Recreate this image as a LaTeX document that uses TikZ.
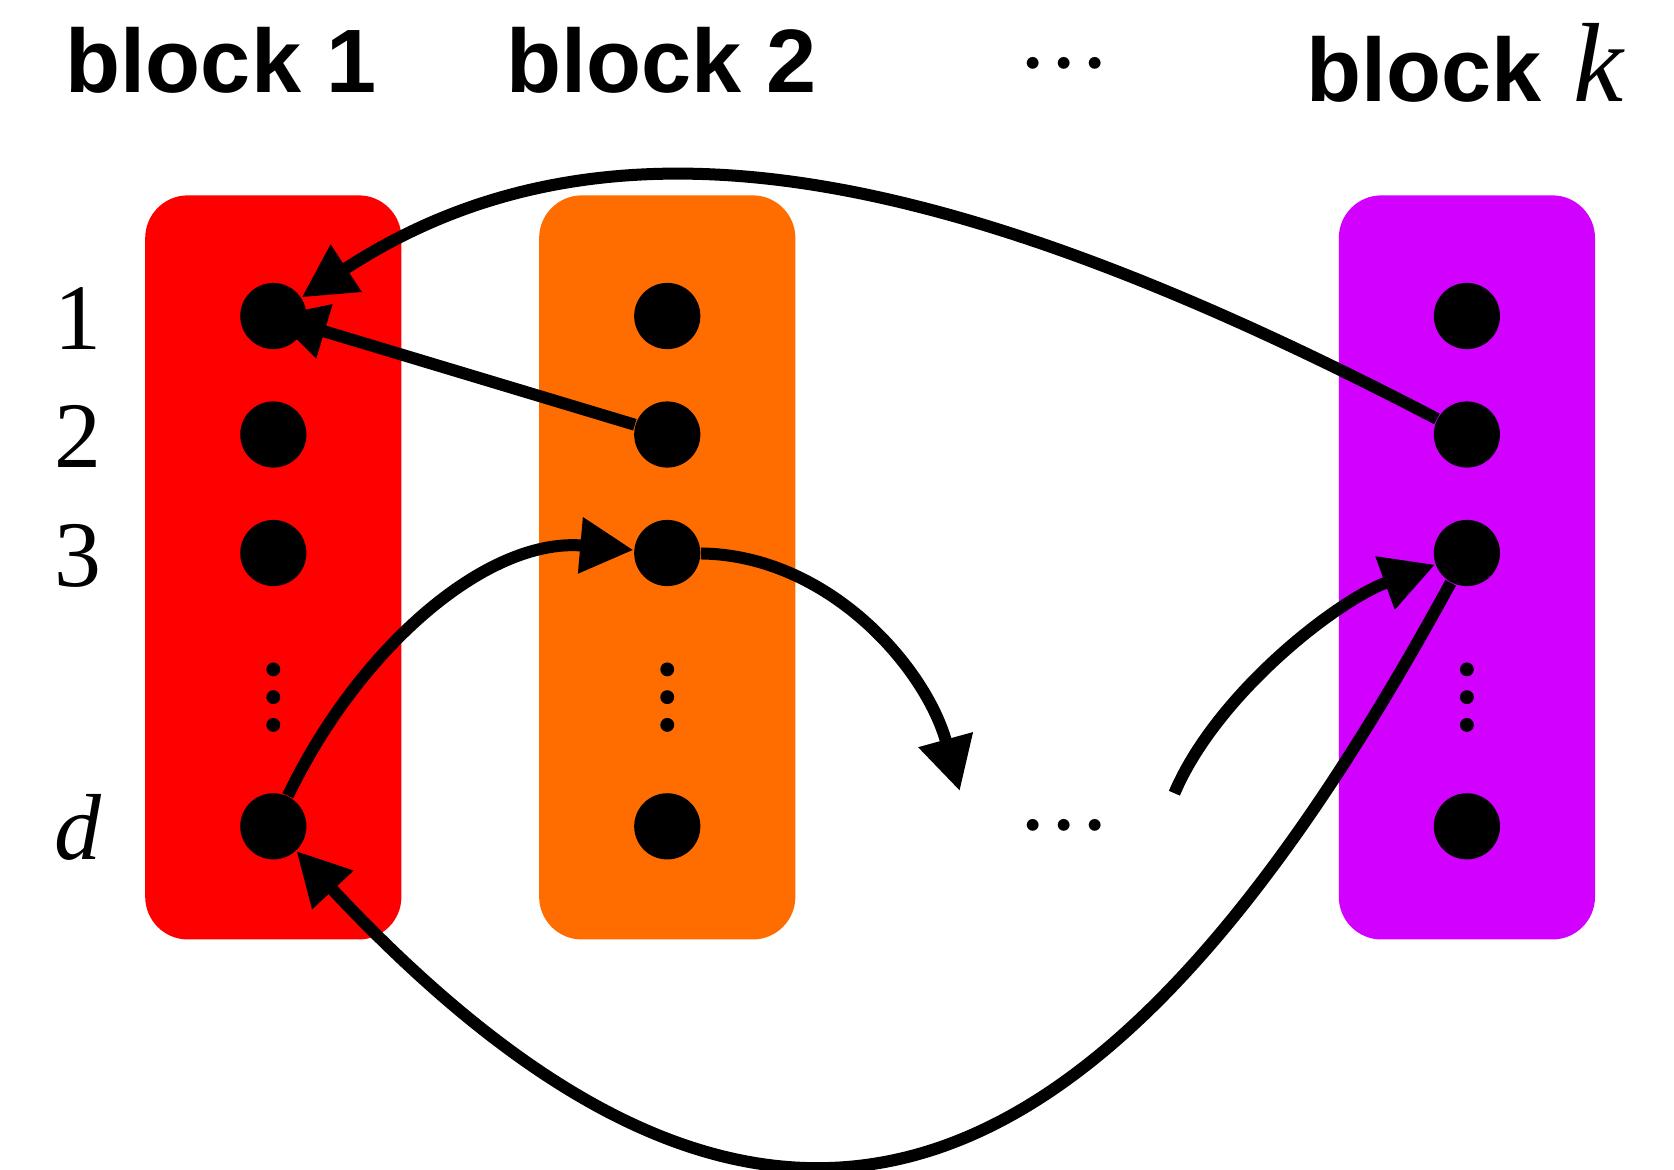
\documentclass[tikz,border=0pt]{standalone}
\usepackage{fix-cm}
\usepackage{fontspec}
\setmainfont{Liberation Sans}
\newfontfamily\rowfont{Liberation Serif}
\usetikzlibrary{arrows.meta}
\definecolor{blockone}{HTML}{FF0000}
\definecolor{blocktwo}{HTML}{FF6D00}
\definecolor{blockk}{HTML}{D200FF}
\newcommand{\threedots}{\fontsize{30}{36}\selectfont$\mathord{\cdot}\mathord{\cdot}\mathord{\cdot}$}

\begin{document}
\begin{tikzpicture}[
    blockbox/.style={rounded corners=0.4cm, minimum width=2.4cm, minimum height=6.97cm, inner sep=0pt},
    entry/.style={circle, fill=black, inner sep=0pt, minimum size=6.2mm},
    hop/.style={line width=3.2pt, -{Triangle[length=5mm,width=5mm]}},
    title/.style={anchor=base west, inner sep=0pt, font=\fontsize{24}{28}\selectfont\bfseries},
    rowlabel/.style={anchor=base, inner sep=0pt, font=\rowfont\fontsize{25}{30}\selectfont},
    ]
    \useasboundingbox (0,0) rectangle (15.68,-10.95);

    % blocks
    \node[blockbox, fill=blockone] (blk1) at (2.56,-5.315) {};
    \node[blockbox, fill=blocktwo] (blk2) at (6.25,-5.315) {};
    \node[blockbox, fill=blockk] (blkk) at (13.74,-5.315) {};

    \node[title] (t1) at (0.61,-0.87) {block 1};
    \node[title] (t2) at (4.74,-0.87) {block 2};
    \node[title] (tk) at (12.23,-0.95) {block\hspace{0.35em}{\rowfont\itshape\mdseries\fontsize{30}{36}\selectfont k}};
    \node[anchor=base, inner sep=0pt] (tdots) at (9.97,-0.86) {\threedots};

    % entries of each block
    \foreach \x/\b in {2.56/1, 6.25/2, 13.74/k}{
        \foreach \y/\r in {2.96/1, 4.07/2, 5.18/3, 7.74/d}
            \node[entry] (b\b-\r) at (\x,-\y) {};
        \foreach \y in {6.27,6.53,6.79}
            \fill (\x,-\y) circle (0.065);
    }

    \foreach \y/\r in {2.96/1, 4.07/2, 5.18/3}
        \node[rowlabel] (lab\r) at (0.73,-\y-0.31) {\r};
    \node[rowlabel] (labd) at (0.73,-8.05) {\itshape d};

    \node[anchor=base, inner sep=0pt] (mdots) at (9.97,-7.99) {\threedots};

    % moves between blocks
    \draw[hop] (bk-2) .. controls +(-4.72,2.46) and +(3.2,2.1) .. (b1-1);
    \draw[hop] (b2-2) -- (b1-1.center);
    \draw[hop] (b1-d) .. controls +(0.79,1.65) and +(-1.7,0.15) .. (b2-3);

    \coordinate (gap1) at (8.99,-7.41);
    \coordinate (gap2) at (11.00,-7.43);
    \draw[hop] (b2-3) .. controls +(1.51,-0.02) and +(-0.32,1.16) .. (gap1);
    \draw[hop] (gap2) .. controls +(0.39,0.92) and +(-1.23,-0.45) .. (bk-3);

    \draw[hop] (bk-3) .. controls +(-3.3,-6.056) and +(4.8,-5.13) .. (b1-d);
\end{tikzpicture}
\end{document}
